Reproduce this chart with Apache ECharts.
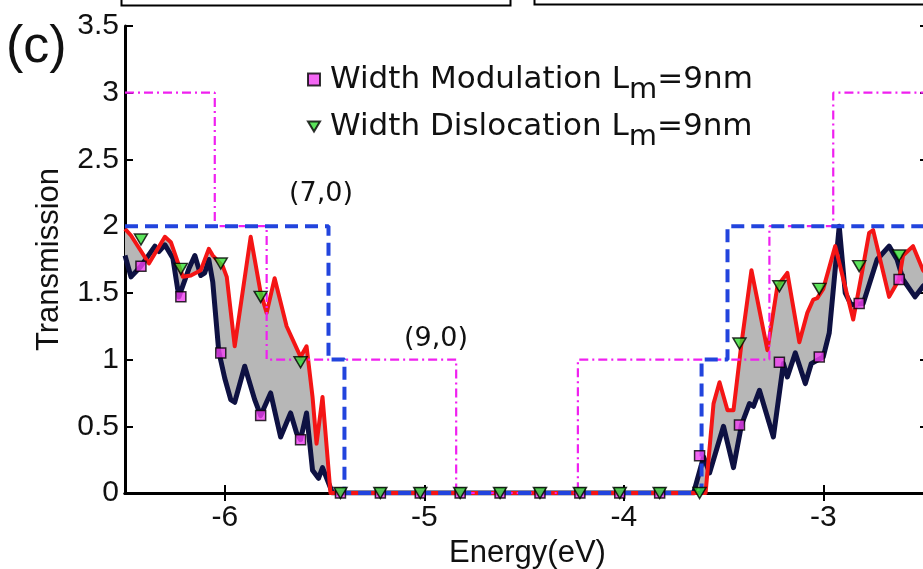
<!DOCTYPE html>
<html>
<head>
<meta charset="utf-8">
<script src="https://cdn.jsdelivr.net/npm/echarts@6/dist/echarts.min.js"></script>
<style>html,body{margin:0;padding:0;background:#fff}#c{width:923px;height:569px}</style>
</head>
<body>
<div id="c"></div>
<script>
// Width Modulation (dark navy curve)
const modE = [-6.50,-6.47,-6.42,-6.35,-6.33,-6.30,-6.26,-6.23,-6.18,-6.15,-6.12,-6.10,-6.08,-6.06,-6.03,-6.00,-5.97,-5.95,-5.90,-5.85,-5.82,-5.77,-5.72,-5.67,-5.64,-5.62,-5.59,-5.56,-5.53,-5.51,-5.46,
  -3.65,-3.60,-3.57,-3.50,-3.45,-3.41,-3.37,-3.35,-3.32,-3.25,-3.20,-3.18,-3.14,-3.09,-3.06,-3.00,-2.97,-2.92,-2.89,-2.86,-2.80,-2.73,-2.67,-2.63,-2.60,-2.54,-2.50,-2.46];
const modT = [1.78,1.62,1.70,1.85,1.81,1.86,1.76,1.47,1.68,1.78,1.63,1.65,1.75,1.58,1.06,0.86,0.70,0.68,0.95,0.70,0.58,0.75,0.42,0.60,0.45,0.40,0.60,0.17,0.11,0.19,0.00,
  0.00,0.27,0.15,0.50,0.19,0.51,0.67,0.65,0.77,0.42,0.97,0.87,1.05,0.82,0.97,1.02,1.20,2.00,1.50,1.41,1.42,1.75,1.85,1.75,1.60,1.47,1.55,1.60];
// Width Dislocation (red curve)
const disE = [-6.50,-6.47,-6.38,-6.30,-6.27,-6.21,-6.17,-6.12,-6.08,-6.06,-6.01,-5.99,-5.95,-5.87,-5.82,-5.79,-5.75,-5.69,-5.62,-5.59,-5.56,-5.54,-5.51,-5.47,
  -3.59,-3.55,-3.52,-3.48,-3.45,-3.41,-3.36,-3.28,-3.23,-3.18,-3.12,-3.08,-3.05,-3.03,-3.00,-2.94,-2.85,-2.80,-2.77,-2.75,-2.67,-2.62,-2.60,-2.55,-2.50,-2.46];
const disT = [1.98,1.93,1.72,1.92,1.88,1.62,1.63,1.67,1.83,1.78,1.70,1.62,1.10,1.92,1.50,1.35,1.61,1.25,1.02,1.10,0.72,0.37,0.72,0.00,
  0.00,0.67,0.83,0.62,0.62,1.12,1.67,1.07,1.55,1.65,1.13,1.35,1.45,1.46,1.53,1.85,1.30,1.70,1.95,1.97,1.47,1.60,1.78,1.85,1.67,1.60];
// markers
const markE = [-6.42,-6.22,-6.02,-5.82,-5.62,-5.42,-5.22,-5.02,-4.82,-4.62,-4.42,-4.22,-4.02,-3.82,-3.62,-3.42,-3.22,-3.02,-2.82,-2.62];
const modMarkT = [1.70,1.47,1.05,0.58,0.40,0,0,0,0,0,0,0,0,0,0.28,0.51,0.98,1.02,1.42,1.60];
const disMarkT = [1.90,1.68,1.72,1.47,0.98,0,0,0,0,0,0,0,0,0,0,1.12,1.55,1.53,1.70,1.78];
// ideal (7,0) and (9,0) step transmissions
const step70E = [-6.50,-5.48,-5.48,-5.40,-5.40,-3.61,-3.61,-3.48,-3.48,-2.46];
const step70T = [2,2,1,1,0,0,1,1,2,2];
const step90E = [-6.50,-6.05,-6.05,-5.79,-5.79,-4.84,-4.84,-4.23,-4.23,-3.27,-3.27,-2.95,-2.95,-2.46];
const step90T = [3,3,2,2,1,1,0,0,1,1,2,2,3,3];
// ticks
const xTicks = [-6,-5,-4,-3];
const xMin = -6.5, xMax = -2.465;
const yMin = 0, yMax = 3.5, yStep = 0.5;

const zip = (a, b) => a.map((v, i) => [v, b[i]]);
const FONT = 'Liberation Sans';
const chart = echarts.init(document.getElementById('c'), null, {renderer: 'canvas'});

const axisCommon = {
  axisLine: {show: true, lineStyle: {color: '#000', width: 3}},
  splitLine: {show: false}
};

chart.setOption({
  animation: false,
  backgroundColor: '#fff',
  grid: {left: 125, right: -7, top: 26, bottom: 76, outerBoundsMode: 'none', containLabel: false},
  xAxis: [
    Object.assign({}, axisCommon, {
      type: 'value', position: 'bottom', min: xMin, max: xMax,
      name: 'Energy(eV)', nameLocation: 'middle', nameGap: 38,
      nameTextStyle: {fontFamily: FONT, fontSize: 31, color: '#111'},
      axisTick: {show: true, inside: true, length: 8, lineStyle: {color: '#000', width: 2}, customValues: xTicks},
      axisLabel: {fontFamily: FONT, fontSize: 30, color: '#111', margin: 10, customValues: xTicks}
    }),
    Object.assign({}, axisCommon, {
      type: 'value', position: 'top', min: xMin, max: xMax,
      axisTick: {show: true, inside: true, length: 8, lineStyle: {color: '#000', width: 2}, customValues: xTicks},
      axisLabel: {show: false}
    })
  ],
  yAxis: [
    Object.assign({}, axisCommon, {
      type: 'value', position: 'left', min: yMin, max: yMax, interval: yStep,
      name: 'Transmission', nameLocation: 'middle', nameGap: 60,
      nameTextStyle: {fontFamily: FONT, fontSize: 31, color: '#111'},
      axisTick: {show: true, inside: true, length: 8, lineStyle: {color: '#000', width: 2}},
      axisLabel: {fontFamily: FONT, fontSize: 30, color: '#111', margin: 6}
    }),
    Object.assign({}, axisCommon, {
      type: 'value', position: 'right', min: yMin, max: yMax, interval: yStep,
      axisTick: {show: true, inside: true, length: 10, lineStyle: {color: '#000', width: 2}},
      axisLabel: {show: false}
    })
  ],
  legend: {
    orient: 'vertical', left: 302, top: 49, itemGap: -4,
    itemWidth: 12, itemHeight: 12,
    data: [
      {name: 'Width Modulation', icon: 'rect'},
      {name: 'Width Dislocation', icon: 'path://M0,0 L12,0 L6,10 Z'}
    ],
    formatter: n => '{b|' + n + ' L}{s|m}{a|=9nm}',
    textStyle: {
      fontFamily: 'DejaVu Sans', fontSize: 31, color: '#111',
      rich: {
        a: {fontFamily: 'DejaVu Sans', fontSize: 31, color: '#111', lineHeight: 32, padding: [8, 0, 8, 0]},
        b: {fontFamily: 'DejaVu Sans', fontSize: 31, color: '#111', lineHeight: 32, padding: [8, 0, 8, 5]},
        s: {fontFamily: 'DejaVu Sans', fontSize: 29, color: '#111', lineHeight: 26, padding: [22, 0, 0, 0]}
      }
    }
  },
  graphic: [
    {type: 'rect', left: 119, top: -10, shape: {width: 389, height: 13}, style: {fill: 'none', stroke: '#000', lineWidth: 2}},
    {type: 'rect', left: 532, top: -10, shape: {width: 420, height: 12}, style: {fill: 'none', stroke: '#000', lineWidth: 2}},
    {type: 'text', left: 6, top: 22, style: {text: '(c)', fontFamily: FONT, fontSize: 52, fill: '#111'}},
    {type: 'text', left: 289, top: 180, style: {text: '(7,0)', fontFamily: 'DejaVu Sans', fontSize: 27, fill: '#111'}},
    {type: 'text', left: 404, top: 325, style: {text: '(9,0)', fontFamily: 'DejaVu Sans', fontSize: 27, fill: '#111'}}
  ],
  series: [
    {
      type: 'custom', name: 'fill', z: 1, silent: true, clip: true,
      data: [[-4.5, 1]],
      renderItem: (params, api) => {
        const pts = [];
        for (let i = 0; i < disE.length; i++) pts.push(api.coord([disE[i], disT[i]]));
        for (let i = modE.length - 1; i >= 0; i--) pts.push(api.coord([modE[i], modT[i]]));
        return {type: 'polygon', shape: {points: pts}, style: {fill: '#b7b7b7', stroke: null}};
      }
    },
    {type: 'line', name: 'modLine', z: 3, data: zip(modE, modT), showSymbol: false, silent: true,
      lineStyle: {color: '#0e1142', width: 5, join: 'round'}},
    {type: 'line', name: 'disLine', z: 4, data: zip(disE, disT), showSymbol: false, silent: true,
      lineStyle: {color: '#f41515', width: 4, join: 'round'}},
    {type: 'line', name: '(9,0)', z: 5, data: zip(step90E, step90T), showSymbol: false, silent: true,
      lineStyle: {color: '#f020f0', width: 2.2, type: [9, 4, 2, 4]}},
    {type: 'line', name: '(7,0)', z: 6, data: zip(step70E, step70T), showSymbol: false, silent: true,
      lineStyle: {color: '#2244dd', width: 4, type: [13, 7]}},
    {type: 'scatter', name: 'Width Modulation', z: 7, data: zip(markE, modMarkT),
      symbol: 'rect', symbolSize: 10,
      itemStyle: {color: '#f040f0', borderColor: '#000', borderWidth: 1.5}},
    {type: 'scatter', name: 'Width Dislocation', z: 8, data: zip(markE, disMarkT),
      symbol: 'triangle', symbolSize: [13, 11], symbolRotate: 180,
      itemStyle: {color: '#33dd33', borderColor: '#000', borderWidth: 1.5}}
  ]
});
</script>
</body>
</html>
